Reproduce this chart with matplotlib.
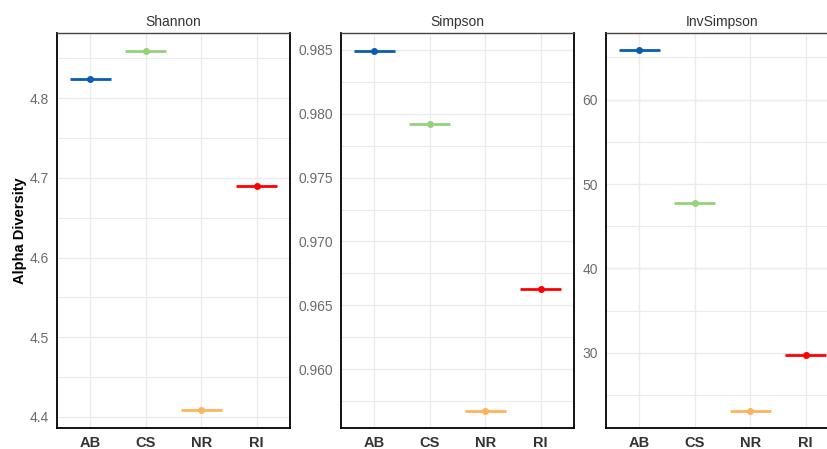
import matplotlib.pyplot as plt
from matplotlib.ticker import MultipleLocator

plt.rcParams['font.family'] = ['Liberation Sans', 'DejaVu Sans']

groups = ["AB", "CS", "NR", "RI"]
colors = ["#0A5DB0", "#96D27A", "#FFB35C", "#FF0000"]

shannon = [4.824, 4.860, 4.408, 4.690]
simpson = [0.9849, 0.9792, 0.9567, 0.9663]
invsimpson = [65.9, 47.8, 23.1, 29.7]

panels = [
    ("Shannon", shannon, (4.386, 4.882), 0.05, [4.4, 4.5, 4.6, 4.7, 4.8], ["4.4", "4.5", "4.6", "4.7", "4.8"]),
    ("Simpson", simpson, (0.95538, 0.98633), 0.0025, [0.960, 0.965, 0.970, 0.975, 0.980, 0.985],
     ["0.960", "0.965", "0.970", "0.975", "0.980", "0.985"]),
    ("InvSimpson", invsimpson, (21.1, 67.9), 5, [30, 40, 50, 60], ["30", "40", "50", "60"]),
]

W, H = 827, 449
fig = plt.figure(figsize=(W / 100, H / 100), dpi=100)

lefts = [57, 341, 606]
pw = 233
top_px, bot_px = 33, 428

x = list(range(1, len(groups) + 1))
for (name, vals, ylim, minor_step, ticks, labels), lp in zip(panels, lefts):
    ax = fig.add_axes([lp / W, (H - bot_px) / H, pw / W, (bot_px - top_px) / H])
    ax.set_xlim(0.4, 4.6)
    ax.set_ylim(*ylim)
    ax.set_yticks(ticks)
    ax.set_yticklabels(labels)
    ax.yaxis.set_minor_locator(MultipleLocator(minor_step))
    ax.set_xticks(x)
    ax.set_xticklabels(groups, fontweight="bold")
    ax.grid(True, which="major", color="#EBEBEB", lw=1.0, zorder=0)
    ax.grid(True, which="minor", axis="y", color="#EBEBEB", lw=0.8, zorder=0)
    ax.set_axisbelow(True)
    ax.tick_params(axis="both", which="both", length=0)
    ax.tick_params(axis="y", labelsize=10, labelcolor="#6B6B6B", pad=6)
    ax.tick_params(axis="x", labelsize=10.5, labelcolor="#333333", pad=6)
    for s in ax.spines.values():
        s.set_color("black")
        s.set_linewidth(1.3)
    ax.spines["top"].set_color("#444444")
    ax.spines["top"].set_linewidth(1.0)
    for xi, v, c in zip(x, vals, colors):
        ax.hlines(v, xi - 0.37, xi + 0.37, color=c, lw=2.0, zorder=3)
        ax.plot(xi, v, "o", color=c, ms=4, zorder=4)
    ax.set_title(name, fontsize=10, color="#333333", pad=5)
    if name == "Shannon":
        ax.set_ylabel("Alpha Diversity", fontsize=10.5, fontweight="bold", labelpad=2)

fig.savefig("out.png", dpi=100)
